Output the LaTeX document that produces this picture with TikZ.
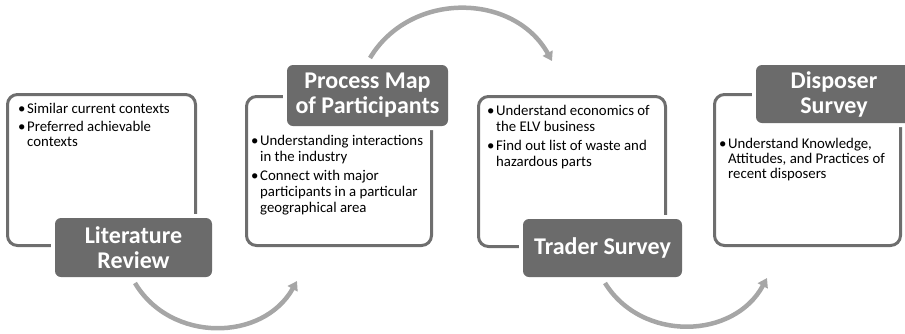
\documentclass[tikz,border=0pt]{standalone}
\usepackage{fontspec}
\setmainfont{Carlito}
\usetikzlibrary{arrows.meta}
\definecolor{boxgray}{HTML}{6E6E6E}
\definecolor{lblgray}{HTML}{6B6B6B}
\definecolor{arrgray}{HTML}{A6A6A6}
\newcommand{\bitem}[1]{\par\hangindent=9pt\hangafter=1\noindent\makebox[9pt][l]{\textbullet}#1\par}
\newcommand{\blist}[2][15.5pt]{\vtop{\hsize=200pt\raggedright\parskip=3pt\baselineskip=#1\parindent=0pt #2}}
\begin{document}
\begin{tikzpicture}[x=1pt,y=-1pt,
  txtbox/.style={draw=boxgray, line width=3pt, rounded corners=10pt, inner sep=0pt},
  lbl/.style={fill=lblgray, preaction={draw=white, line width=8pt}, rounded corners=6pt,
    text=white, align=center, inner sep=0pt,
    font=\fontsize{24}{25}\selectfont\bfseries},
  body/.style={anchor=base west, inner sep=0pt, font=\fontsize{14.8}{15.5}\selectfont},
  flow/.style={draw=arrgray, line width=4.5pt, -{Triangle[width=11pt,length=9pt]}}]
\useasboundingbox (0,0) rectangle (905,333);
\begin{scope}
\clip (0,0) rectangle (905,333);
% text boxes
\node[txtbox, minimum width=188pt, minimum height=151pt] (b1) at (101.5,170) {};
\node[txtbox, minimum width=185pt, minimum height=149pt] (b2) at (339,171) {};
\node[txtbox, minimum width=187pt, minimum height=150pt] (b3) at (572,171.5) {};
\node[txtbox, minimum width=186pt, minimum height=151pt] (b4) at (807.5,170) {};
% labels
\node[lbl, minimum width=157pt, minimum height=59pt] (l1) at (133.5,247.5) {Literature\\Review};
\node[lbl, minimum width=161pt, minimum height=61pt] (l2) at (367.5,95.5) {Process Map\\of Participants};
\node[lbl, minimum width=159pt, minimum height=58pt] (l3) at (602.5,248) {Trader Survey};
\node[lbl, minimum width=156pt, minimum height=58pt, text width=150pt] (l4) at (834,94) {Disposer\\Survey};
% body texts
\node[body] (t1) at (18,113) {\blist[15pt]{\bitem{Similar current contexts}\bitem{Preferred achievable\newline contexts}}};
\node[body] (t2) at (251,145) {\blist[16pt]{\bitem{Understanding interactions\newline in the industry}\bitem{Connect with major\newline participants in a particular\newline geographical area}}};
\node[body] (t3) at (487,115) {\blist[16pt]{\bitem{Understand economics of\newline the ELV business}\bitem{Find out list of waste and\newline hazardous parts}}};
\node[body] (t4) at (719,148) {\blist[15pt]{\bitem{Understand Knowledge,\newline Attitudes, and Practices of\newline recent disposers}}};
\end{scope}
% flow arrows
\coordinate (a1s) at (135,283);
\coordinate (a1e) at (297,281);
\coordinate (a2s) at (370,58);
\coordinate (a2e) at (552,61);
\coordinate (a3s) at (605,283);
\coordinate (a3e) at (767,278);
\draw[flow] (a1s) to[bend right=60, looseness=1.1] (a1e);
\draw[flow] (a2s) to[bend left=60, looseness=1.1] (a2e);
\draw[flow] (a3s) to[bend right=60, looseness=1.1] (a3e);
\end{tikzpicture}
\end{document}
